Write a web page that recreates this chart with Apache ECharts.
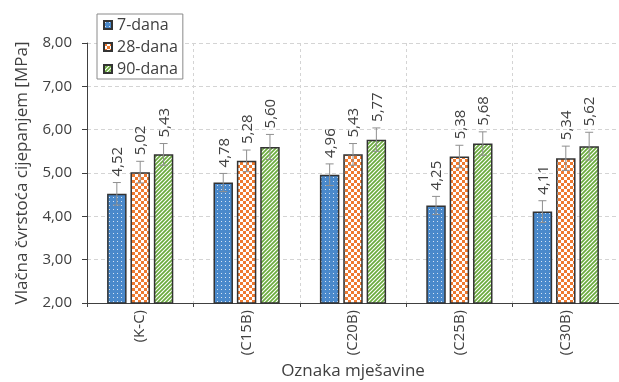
<!DOCTYPE html>
<html>
<head>
<meta charset="utf-8">
<script src="https://cdn.jsdelivr.net/npm/echarts@6/dist/echarts.min.js"></script>
<style>
  html, body { margin: 0; padding: 0; background: #fff; }
  #chart { width: 619px; height: 382px; }
</style>
</head>
<body>
<div id="chart"></div>
<script>
// Splitting tensile strength by mix designation, at three curing ages
const categories = ['(K-C)', '(C15B)', '(C20B)', '(C25B)', '(C30B)'];
const seriesNames = ['7-dana', '28-dana', '90-dana'];
const values7 = [4.52, 4.78, 4.96, 4.25, 4.11];
const values28 = [5.02, 5.28, 5.43, 5.38, 5.34];
const values90 = [5.43, 5.60, 5.77, 5.68, 5.62];
// standard deviations shown as error bars
const err7 = [0.26, 0.21, 0.25, 0.21, 0.25];
const err28 = [0.25, 0.25, 0.25, 0.26, 0.28];
const err90 = [0.25, 0.29, 0.27, 0.27, 0.32];
const yTicks = { min: 2, max: 8, step: 1 };

const FONT = '"Open Sans", "Noto Sans", sans-serif';
const TEXT = '#404040';
const BAR_W = 0.183;   // bar width as a share of the category band
const BAR_GAP = 0.2;   // gap between bars as a share of bar width

function tile(size, draw) {
  const c = document.createElement('canvas');
  c.width = size; c.height = size;
  const ctx = c.getContext('2d');
  draw(ctx, size);
  return { image: c, repeat: 'repeat' };
}

// blue with small white dots
const dotFill = tile(4, (ctx) => {
  ctx.fillStyle = '#4a89cb';
  ctx.fillRect(0, 0, 4, 4);
  ctx.fillStyle = '#d6e4f4';
  ctx.fillRect(1, 1, 1, 1);
});
// orange and white checkerboard
const checkFill = tile(6, (ctx) => {
  ctx.fillStyle = '#ffffff';
  ctx.fillRect(0, 0, 6, 6);
  ctx.fillStyle = '#ee7a30';
  ctx.fillRect(0, 0, 3, 3);
  ctx.fillRect(3, 3, 3, 3);
});
// green diagonal stripes
const stripeFill = tile(4, (ctx) => {
  ctx.fillStyle = '#ffffff';
  ctx.fillRect(0, 0, 4, 4);
  ctx.strokeStyle = '#6aab3d';
  ctx.lineWidth = 1.7;
  ctx.beginPath();
  ctx.moveTo(-1, 5); ctx.lineTo(5, -1);
  ctx.moveTo(-1, 1); ctx.lineTo(1, -1);
  ctx.moveTo(3, 5); ctx.lineTo(5, 3);
  ctx.stroke();
});

const fills = [dotFill, checkFill, stripeFill];
const valueSets = [values7, values28, values90];
const errSets = [err7, err28, err90];

const fmt = (v) => v.toFixed(2).replace('.', ',');

// error bar + value label data: [category index, value, error, series index]
const errData = [];
valueSets.forEach((vals, s) => {
  vals.forEach((v, i) => errData.push([i, v, errSets[s][i], s]));
});

function renderErr(params, api) {
  const ci = api.value(0), v = api.value(1), e = api.value(2), s = api.value(3);
  const band = api.size([1, 0])[0];
  const bw = band * BAR_W;
  const x = api.coord([ci, v])[0] + (s - 1) * (bw * (1 + BAR_GAP));
  const yTop = api.coord([ci, v + e])[1];
  const yBot = api.coord([ci, v - e])[1];
  const cap = 4;
  const lineStyle = { stroke: '#8f8f8f', lineWidth: 1 };
  return {
    type: 'group',
    children: [
      { type: 'line', shape: { x1: x, y1: yTop, x2: x, y2: yBot }, style: lineStyle },
      { type: 'line', shape: { x1: x - cap, y1: yTop, x2: x + cap, y2: yTop }, style: lineStyle },
      { type: 'line', shape: { x1: x - cap, y1: yBot, x2: x + cap, y2: yBot }, style: lineStyle },
      {
        type: 'text',
        x: x + 1,
        y: yTop - 6,
        rotation: Math.PI / 2,
        style: {
          text: fmt(v),
          fill: TEXT,
          font: '15px ' + FONT,
          align: 'left',
          verticalAlign: 'middle'
        }
      }
    ]
  };
}

const chart = echarts.init(document.getElementById('chart'), null, { renderer: 'canvas' });

const barSeries = seriesNames.map((name, s) => ({
  name,
  type: 'bar',
  data: valueSets[s],
  barWidth: (BAR_W * 100) + '%',
  barGap: (BAR_GAP * 100) + '%',
  itemStyle: { color: fills[s], borderColor: '#333333', borderWidth: 1.5 },
  emphasis: { disabled: true }
}));

chart.setOption({
  animation: false,
  backgroundColor: '#ffffff',
  textStyle: { fontFamily: FONT },
  grid: { left: 87, right: 0, top: 43, bottom: 79, containLabel: false, outerBoundsMode: 'none' },
  legend: {
    data: seriesNames,
    orient: 'vertical',
    left: 97,
    top: 14,
    padding: [3, 5, 2, 6],
    itemGap: 6,
    itemWidth: 8,
    itemHeight: 8,
    icon: 'rect',
    backgroundColor: '#ffffff',
    borderColor: '#8a8a8a',
    borderWidth: 1,
    borderRadius: 0,
    textStyle: { fontFamily: FONT, fontSize: 16, color: TEXT, lineHeight: 15, padding: [0, 0, 0, 0] }
  },
  xAxis: {
    type: 'category',
    data: categories,
    name: 'Oznaka mješavine',
    nameLocation: 'middle',
    nameGap: 59,
    nameTextStyle: { fontFamily: FONT, fontSize: 17, color: TEXT },
    axisLine: { lineStyle: { color: '#404040', width: 1 } },
    axisTick: { show: true, length: 4, lineStyle: { color: '#404040' } },
    axisLabel: { rotate: 90, margin: 7, fontSize: 15, color: TEXT, fontFamily: FONT },
    splitLine: { show: true, lineStyle: { color: '#d4d4d4', type: [3, 3], width: 1 } }
  },
  yAxis: {
    type: 'value',
    min: yTicks.min,
    max: yTicks.max,
    interval: yTicks.step,
    name: 'Vlačna čvrstoća cijepanjem [MPa]',
    nameLocation: 'middle',
    nameGap: 56,
    nameTextStyle: { fontFamily: FONT, fontSize: 17, color: TEXT },
    axisLine: { show: true, lineStyle: { color: '#404040', width: 1 } },
    axisTick: { show: true, length: 5, lineStyle: { color: '#404040' } },
    axisLabel: { formatter: (v) => fmt(v), margin: 15, fontSize: 15, color: TEXT, fontFamily: FONT },
    splitLine: { show: true, lineStyle: { color: '#d4d4d4', type: [4, 3], width: 1 } }
  },
  series: barSeries.concat([{
    name: 'err',
    type: 'custom',
    renderItem: renderErr,
    data: errData,
    z: 5,
    silent: true,
    encode: { x: 0, y: 1 }
  }])
});
</script>
</body>
</html>
